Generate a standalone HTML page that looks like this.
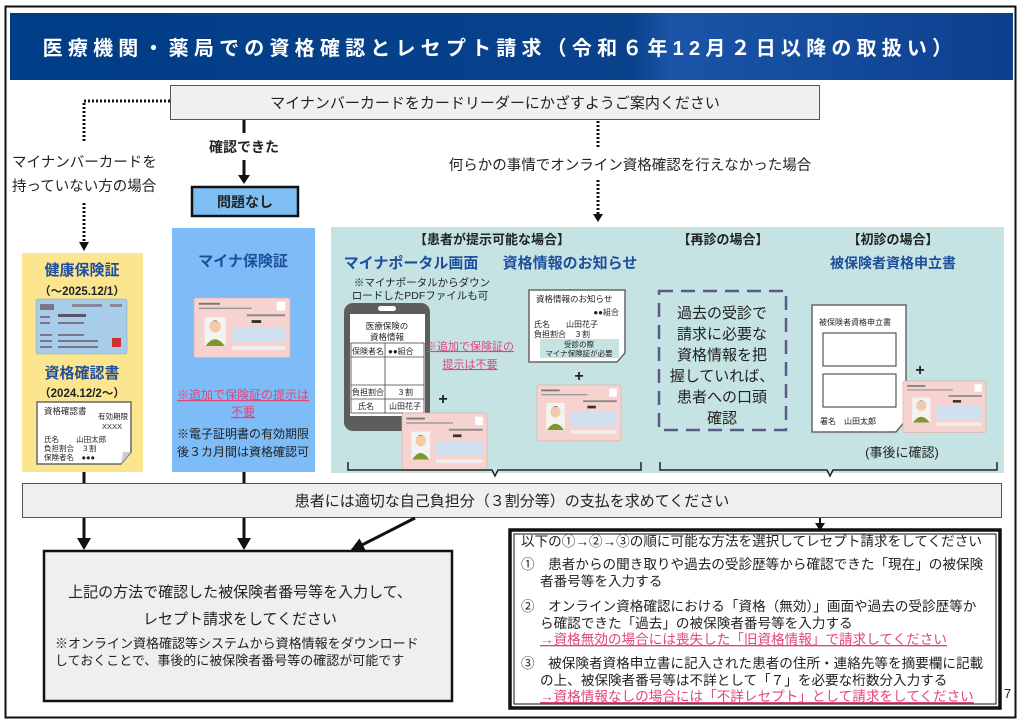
<!DOCTYPE html>
<html><head><meta charset="utf-8"><style>
html,body{margin:0;padding:0;background:#fff;width:1024px;height:724px;overflow:hidden}
svg{display:block}
text{font-family:"Liberation Sans","Noto Sans CJK JP",sans-serif;fill:#222}
.b{font-weight:bold}
.nv{fill:#1f4e9c;font-weight:bold}
.pk{fill:#e0457b}
</style></head><body>
<svg width="1024" height="724" viewBox="0 0 1024 724" xmlns="http://www.w3.org/2000/svg">
<defs>
<linearGradient id="hg" x1="0" x2="1" y1="0" y2="0">
<stop offset="0" stop-color="#003d87"/><stop offset="0.62" stop-color="#0a428c"/><stop offset="0.66" stop-color="#1a55a8"/><stop offset="1" stop-color="#0d3f8e"/>
</linearGradient>
<marker id="ah2" markerWidth="14" markerHeight="14" refX="12" refY="7" orient="auto" markerUnits="userSpaceOnUse"><path d="M0,0 L14,7 L0,14 z" fill="#111"/></marker>
<g id="card">
<rect x="0" y="0" width="100" height="62" rx="2" fill="#f7d3d0" stroke="#d9b0ad" stroke-width="0.8"/>
<rect x="5" y="5" width="22" height="2" fill="#777"/>
<rect x="5" y="10" width="55" height="1.5" fill="#999"/>
<rect x="86" y="4" width="9" height="9" fill="#fff"/>
<rect x="11" y="20" width="22" height="30" fill="#f3f3f3"/>
<circle cx="22" cy="30" r="6" fill="#f4c9a8"/>
<path d="M16,28 q6,-9 12,0 q-2,-4 -6,-4 q-4,0 -6,4z" fill="#1c2a4a"/>
<path d="M12,50 q10,-14 20,0z" fill="#7a9a2a"/>
<rect x="55" y="17" width="40" height="2" fill="#888"/>
<rect x="60" y="23" width="10" height="3" fill="#333"/>
<rect x="40" y="30" width="55" height="16" fill="#cfe1f0"/>
<rect x="40" y="50" width="55" height="4" fill="#eee"/>
</g>
</defs>

<rect x="5.5" y="6.5" width="1010" height="711" fill="#fff" stroke="#111" stroke-width="2"/>
<rect x="10" y="13" width="1003" height="67" fill="url(#hg)"/>
<text x="500" y="55" text-anchor="middle" font-size="20" class="b" style="fill:#fff;letter-spacing:5.2px">医療機関・薬局での資格確認とレセプト請求（令和６年12月２日以降の取扱い）</text>

<rect x="170.5" y="85.5" width="649" height="34" fill="#f0f0f0" stroke="#555"/>
<text x="495" y="108" text-anchor="middle" font-size="15">マイナンバーカードをカードリーダーにかざすようご案内ください</text>

<path d="M170,101 H84 V142" fill="none" stroke="#111" stroke-width="3" stroke-dasharray="2,2"/>
<text x="12" y="167" font-size="14.5">マイナンバーカードを</text>
<text x="12" y="191" font-size="14.5">持っていない方の場合</text>
<path d="M84,203 V244" fill="none" stroke="#111" stroke-width="3" stroke-dasharray="2,2"/>
<path d="M79,242 L89,242 L84,251z" fill="#111"/>

<line x1="244" y1="120" x2="244" y2="133" stroke="#111" stroke-width="3"/>
<text x="244" y="152" text-anchor="middle" font-size="14" class="b">確認できた</text>
<line x1="244" y1="160" x2="244" y2="176" stroke="#111" stroke-width="3"/>
<path d="M238,175 L250,175 L244,184z" fill="#111"/>
<rect x="192" y="187" width="106" height="29" fill="#7fbdf5" stroke="#111" stroke-width="2.5"/>
<text x="245" y="207" text-anchor="middle" font-size="14" class="b">問題なし</text>

<path d="M598,121 V148" fill="none" stroke="#111" stroke-width="3" stroke-dasharray="2,2"/>
<text x="630" y="170" text-anchor="middle" font-size="14.5">何らかの事情でオンライン資格確認を行えなかった場合</text>
<path d="M598,180 V216" fill="none" stroke="#111" stroke-width="3" stroke-dasharray="2,2"/>
<path d="M593,214 L603,214 L598,222z" fill="#111"/>

<rect x="22" y="253" width="121" height="219" fill="#fbe58f"/>
<text x="82" y="275" text-anchor="middle" font-size="15" class="nv">健康保険証</text>
<text x="82" y="295" text-anchor="middle" font-size="11.5" class="b">（～2025.12/1）</text>
<rect x="36" y="299" width="91" height="55" rx="2" fill="#a8cdeb" stroke="#8ab" stroke-width="0.6"/>
<rect x="40" y="304" width="14" height="6" fill="#778"/><rect x="72" y="304" width="30" height="3" fill="#889"/><rect x="110" y="304" width="12" height="3" fill="#889"/>
<rect x="40" y="316" width="10" height="2" fill="#778"/><rect x="58" y="314" width="28" height="3" fill="#556"/>
<rect x="40" y="322" width="10" height="2" fill="#778"/><rect x="58" y="322" width="26" height="2" fill="#778"/>
<rect x="40" y="334" width="12" height="2" fill="#778"/><rect x="58" y="334" width="26" height="2" fill="#778"/>
<rect x="40" y="340" width="12" height="2" fill="#778"/><rect x="58" y="340" width="40" height="2" fill="#778"/>
<rect x="40" y="346" width="12" height="2" fill="#778"/><rect x="58" y="346" width="40" height="2" fill="#778"/>
<rect x="112" y="338" width="9" height="9" fill="#c33"/>
<text x="82" y="378" text-anchor="middle" font-size="15" class="nv">資格確認書</text>
<text x="82" y="397" text-anchor="middle" font-size="11.5" class="b">（2024.12/2～）</text>
<path d="M37,402 H131 V452 L121,464 H37z" fill="#fff" stroke="#666" stroke-width="1.5"/>
<path d="M121,464 L123,452 H131z" fill="#ccc"/>
<text x="44" y="414" font-size="8.5">資格確認書</text>
<text x="98" y="419" font-size="7.5">有効期限</text>
<text x="102" y="429" font-size="7.5">XXXX</text>
<text x="44" y="442" font-size="7.5">氏名　　 山田太郎</text>
<text x="44" y="451" font-size="7.5">負担割合　３割</text>
<text x="44" y="460" font-size="7.5">保険者名　●●●</text>

<rect x="172" y="228" width="143" height="244" fill="#7dbcf7"/>
<text x="243" y="266" text-anchor="middle" font-size="15" class="nv">マイナ保険証</text>
<use href="#card" transform="translate(194,298) scale(0.96)"/>
<text x="243" y="399" text-anchor="middle" font-size="12" class="pk" text-decoration="underline">※追加で保険証の提示は</text>
<text x="243" y="416" text-anchor="middle" font-size="12" class="pk" text-decoration="underline">不要</text>
<text x="243" y="438" text-anchor="middle" font-size="12">※電子証明書の有効期限</text>
<text x="243" y="456" text-anchor="middle" font-size="12">後３カ月間は資格確認可</text>

<rect x="331" y="227" width="673" height="246" fill="#c5e3e3"/>
<text x="492" y="244" text-anchor="middle" font-size="13" class="b">【患者が提示可能な場合】</text>
<text x="723" y="244" text-anchor="middle" font-size="13" class="b">【再診の場合】</text>
<text x="893" y="244" text-anchor="middle" font-size="13" class="b">【初診の場合】</text>
<text x="411" y="268" text-anchor="middle" font-size="15" class="nv">マイナポータル画面</text>
<text x="570" y="268" text-anchor="middle" font-size="15" class="nv">資格情報のお知らせ</text>
<text x="893" y="268" text-anchor="middle" font-size="14" class="nv">被保険者資格申立書</text>
<text x="422" y="286" text-anchor="middle" font-size="10.5">※マイナポータルからダウン</text>
<text x="420" y="299" text-anchor="middle" font-size="10.5">ロードしたPDFファイルも可</text>

<rect x="344" y="303" width="86" height="128" rx="9" fill="#5d5d5d"/>
<rect x="378" y="306" width="18" height="5" rx="2.5" fill="#fff"/>
<rect x="350" y="314" width="75" height="102" fill="#fff"/>
<text x="387" y="329" text-anchor="middle" font-size="8.5">医療保険の</text>
<text x="387" y="340" text-anchor="middle" font-size="8.5">資格情報</text>
<g stroke="#444" stroke-width="0.8" fill="none">
<rect x="351" y="343" width="73" height="70"/>
<line x1="385" y1="343" x2="385" y2="413"/>
<line x1="351" y1="357" x2="424" y2="357"/>
<line x1="351" y1="385" x2="424" y2="385"/>
<line x1="351" y1="399" x2="424" y2="399"/>
</g>
<text x="352" y="354" font-size="8">保険者名</text><text x="388" y="354" font-size="8">●●組合</text>
<text x="352" y="395" font-size="8">負担割合</text><text x="397" y="395" font-size="8">３割</text>
<text x="358" y="409" font-size="8">氏名</text><text x="389" y="409" font-size="8">山田花子</text>
<text x="470" y="350" text-anchor="middle" font-size="11" class="pk" text-decoration="underline">※追加で保険証の</text>
<text x="470" y="368" text-anchor="middle" font-size="11" class="pk" text-decoration="underline">提示は不要</text>
<text x="443" y="404" text-anchor="middle" font-size="16" class="b">+</text>
<use href="#card" transform="translate(402,413) scale(0.85,0.93)"/>

<path d="M529,290 H625 V353 L617,362 H529z" fill="#fff" stroke="#666" stroke-width="1.5"/>
<text x="536" y="302" font-size="8.5">資格情報のお知らせ</text>
<text x="619" y="315" text-anchor="end" font-size="8">●●組合</text>
<text x="534" y="327" font-size="8">氏名　　山田花子</text>
<text x="534" y="337" font-size="8">負担割合　３割</text>
<rect x="540" y="339" width="79" height="19" fill="#c5e3e3"/>
<text x="579" y="347" text-anchor="middle" font-size="7.5">受診の際</text>
<text x="579" y="356" text-anchor="middle" font-size="7.5">マイナ保険証が必要</text>
<text x="579" y="381" text-anchor="middle" font-size="16" class="b">+</text>
<use href="#card" transform="translate(537,385) scale(0.84,0.9)"/>

<rect x="659" y="291" width="127" height="139" fill="none" stroke="#5b5b8a" stroke-width="2.5" stroke-dasharray="14,8"/>
<g font-size="15" text-anchor="middle">
<text x="722" y="318">過去の受診で</text>
<text x="722" y="339">請求に必要な</text>
<text x="722" y="360">資格情報を把</text>
<text x="722" y="381">握していれば、</text>
<text x="722" y="402">患者への口頭</text>
<text x="722" y="423">確認</text>
</g>

<path d="M812,305 H906 V420 L896,432 H812z" fill="#fff" stroke="#666" stroke-width="1.5"/>
<text x="819" y="325" font-size="8">被保険者資格申立書</text>
<rect x="823" y="333" width="73" height="33" fill="#fff" stroke="#333" stroke-width="1"/>
<rect x="823" y="374" width="73" height="33" fill="#fff" stroke="#333" stroke-width="1"/>
<text x="820" y="424" font-size="8">署名　山田太郎</text>
<text x="920" y="375" text-anchor="middle" font-size="16" class="b">+</text>
<use href="#card" transform="translate(903,381) scale(0.83,0.83)"/>
<text x="902" y="457" text-anchor="middle" font-size="13">(事後に確認)</text>

<path d="M348,462 V470 H492 L495,476 L498,470 H641 V462" fill="none" stroke="#222" stroke-width="1.5"/>
<path d="M660,462 V470 H827 L830,476 L833,470 H997 V462" fill="none" stroke="#222" stroke-width="1.5"/>

<line x1="84" y1="472" x2="84" y2="484" stroke="#111" stroke-width="3"/>
<line x1="244" y1="472" x2="244" y2="484" stroke="#111" stroke-width="3"/>

<rect x="22.5" y="483.5" width="979" height="34" fill="#efefef" stroke="#555"/>
<text x="512" y="506" text-anchor="middle" font-size="15">患者には適切な自己負担分（３割分等）の支払を求めてください</text>

<line x1="84" y1="518" x2="84" y2="540" stroke="#111" stroke-width="3"/>
<path d="M77,538 L91,538 L84,550z" fill="#111"/>
<line x1="244" y1="518" x2="244" y2="540" stroke="#111" stroke-width="3"/>
<path d="M237,538 L251,538 L244,550z" fill="#111"/>
<line x1="415" y1="518" x2="352" y2="550" stroke="#111" stroke-width="3" marker-end="url(#ah2)"/>
<line x1="820" y1="518" x2="820" y2="524" stroke="#111" stroke-width="2"/>
<path d="M815,523 L825,523 L820,531z" fill="#111"/>

<rect x="44" y="551" width="408" height="150" fill="#efefef" stroke="#111" stroke-width="2.5"/>
<text x="240" y="597" text-anchor="middle" font-size="15">上記の方法で確認した被保険者番号等を入力して、</text>
<text x="240" y="624" text-anchor="middle" font-size="15">レセプト請求をしてください</text>
<text x="55" y="648" font-size="13">※オンライン資格確認等システムから資格情報をダウンロード</text>
<text x="55" y="665" font-size="13">しておくことで、事後的に被保険者番号等の確認が可能です</text>

<rect x="510" y="530" width="490" height="178" fill="#fff" stroke="#111" stroke-width="3.5"/>
<rect x="514" y="534" width="482" height="170" fill="none" stroke="#111" stroke-width="1"/>
<g font-size="13.6">
<text x="521" y="546">以下の①→②→③の順に可能な方法を選択してレセプト請求をしてください</text>
<text x="521" y="569">①　患者からの聞き取りや過去の受診歴等から確認できた「現在」の被保険</text>
<text x="540" y="586">者番号等を入力する</text>
<text x="521" y="611">②　オンライン資格確認における「資格（無効）」画面や過去の受診歴等か</text>
<text x="540" y="628">ら確認できた「過去」の被保険者番号等を入力する</text>
<text x="540" y="644" class="pk" text-decoration="underline">→資格無効の場合には喪失した「旧資格情報」で請求してください</text>
<text x="521" y="668">③　被保険者資格申立書に記入された患者の住所・連絡先等を摘要欄に記載</text>
<text x="540" y="685">の上、被保険者番号等は不詳として「７」を必要な桁数分入力する</text>
<text x="540" y="701" class="pk" text-decoration="underline">→資格情報なしの場合には「不詳レセプト」として請求をしてください</text>
</g>
<text x="1004" y="698" font-size="13">7</text>
</svg>
</body></html>
